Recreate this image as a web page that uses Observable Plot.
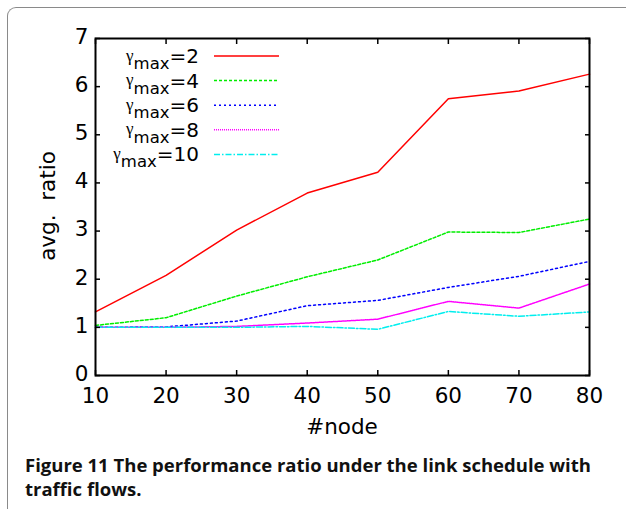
<!DOCTYPE html>
<html>
<head>
<meta charset="utf-8">
<script src="https://cdn.jsdelivr.net/npm/d3@7"></script>
<script src="https://cdn.jsdelivr.net/npm/@observablehq/plot@0.6"></script>
<style>
  html, body { margin: 0; padding: 0; background: #fff; }
  #page { position: relative; width: 626px; height: 509px; overflow: hidden; }
  #box { position: absolute; left: 7px; top: 7px; width: 700px; height: 600px;
         border-top: 1.5px solid #8a8a8a; border-left: 1.5px solid #8a8a8a;
         border-top-left-radius: 9px; }
  #chart { position: absolute; left: 0; top: 0; }
  #caption { position: absolute; left: 25px; top: 453px; font-family: "Open Sans", sans-serif;
             font-weight: 700; font-size: 18.5px; line-height: 23.5px; color: #111; letter-spacing: 0; }
</style>
</head>
<body>
<div id="page">
  <div id="box"></div>
  <div id="chart"></div>
  <div id="caption">Figure 11 The performance ratio under the link schedule with<br>traffic flows.</div>
</div>
<script>
const nodes = [10, 20, 30, 40, 50, 60, 70, 80];
const gamma2  = [1.32, 2.08, 3.02, 3.79, 4.22, 5.75, 5.91, 6.26];
const gamma4  = [1.04, 1.20, 1.65, 2.05, 2.40, 2.98, 2.97, 3.25];
const gamma6  = [1.00, 1.01, 1.13, 1.45, 1.56, 1.83, 2.06, 2.37];
const gamma8  = [1.00, 1.00, 1.02, 1.09, 1.17, 1.54, 1.40, 1.90];
const gamma10 = [1.00, 1.00, 1.00, 1.02, 0.96, 1.33, 1.23, 1.32];
const seriesNames = ["2", "4", "6", "8", "10"];
const seriesValues = [gamma2, gamma4, gamma6, gamma8, gamma10];
const xTicks = [10, 20, 30, 40, 50, 60, 70, 80];
const yTicks = [0, 1, 2, 3, 4, 5, 6, 7];

const styles = [
  {stroke: "#ff0000", dash: null},
  {stroke: "#00ee00", dash: "3,2"},
  {stroke: "#0000ff", dash: "2,3"},
  {stroke: "#ff00ff", dash: "1,1"},
  {stroke: "#00eeee", dash: "6,2,1.5,2"}
];

const rows = [];
seriesNames.forEach((s, i) => nodes.forEach((n, j) => rows.push({series: s, node: n, ratio: seriesValues[i][j]})));

const lineMarks = seriesNames.map((s, i) => Plot.line(rows.filter(d => d.series === s), {
  x: "node", y: "ratio", stroke: styles[i].stroke, strokeWidth: 1.5,
  strokeDasharray: styles[i].dash, curve: "linear"
}));

const FONT = "'DejaVu Sans', sans-serif";

const chart = Plot.plot({
  width: 626,
  height: 440,
  marginLeft: 95,
  marginRight: 37,
  marginTop: 38,
  marginBottom: 65,
  style: {fontFamily: FONT, fontSize: "21.5px", color: "#000", background: "transparent"},
  x: {domain: [10, 80]},
  y: {domain: [0, 7]},
  marks: [
    ...lineMarks,
    Plot.frame({stroke: "#000", strokeWidth: 2}),
    Plot.axisX(xTicks, {anchor: "bottom", tickSize: -5, tickPadding: 17, tickFormat: d => String(d), fontSize: 21.5, label: null, strokeWidth: 1.5}),
    Plot.axisX(xTicks, {anchor: "top", tickSize: -5, tickFormat: null, text: null, label: null, strokeWidth: 1.5}),
    Plot.axisY(yTicks, {anchor: "left", tickSize: -5, text: null, tickFormat: null, label: null, strokeWidth: 1.5}),
    Plot.axisY(yTicks, {anchor: "left", tickSize: 0, tickPadding: 7, dy: -1.5, tickFormat: d => String(d), fontSize: 21.5, label: null}),
    Plot.axisY(yTicks, {anchor: "right", tickSize: -5, tickFormat: null, text: null, label: null, strokeWidth: 1.5})
  ]
});
document.getElementById("chart").appendChild(chart);

const svg = d3.select(chart);
// axis titles
svg.append("text")
  .attr("x", 342).attr("y", 434)
  .attr("text-anchor", "middle")
  .attr("font-size", 21.5)
  .attr("fill", "#000")
  .text("#node");
svg.append("text")
  .attr("transform", "translate(55,206) rotate(-90)")
  .attr("text-anchor", "middle")
  .attr("font-size", 21.5)
  .attr("fill", "#000")
  .text("avg.  ratio");

// legend
const lg = svg.append("g").attr("class", "legend");
seriesNames.forEach((s, i) => {
  const yy = 56 + i * 24.6;
  const t = lg.append("text")
    .attr("x", 199).attr("y", yy + 7)
    .attr("text-anchor", "end")
    .attr("font-size", 20)
    .attr("fill", "#000");
  t.append("tspan").attr("font-family", "'Liberation Serif', serif").attr("font-size", 17).attr("dy", -2.5).text("γ");
  t.append("tspan").attr("font-size", 16.5).attr("dy", 8.5).text("max");
  t.append("tspan").attr("dy", -6).text("=" + s);
  lg.append("line")
    .attr("x1", 214).attr("x2", 279).attr("y1", yy).attr("y2", yy)
    .attr("stroke", styles[i].stroke).attr("stroke-width", 1.5)
    .attr("stroke-dasharray", styles[i].dash);
});
</script>
</body>
</html>
